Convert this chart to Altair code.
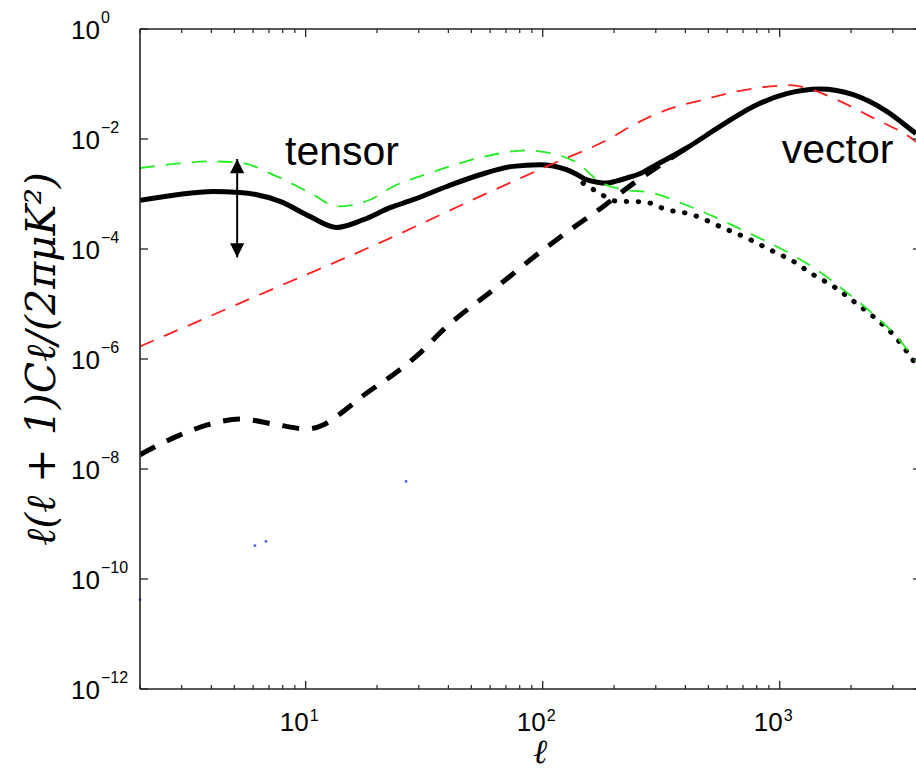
import altair as alt
import pandas as pd

# ---------------- data ----------------
solid_l = [2.0, 2.86, 4.06, 5.28, 7.79, 10.4, 13.5, 17.5, 22.7, 28.4, 39.4, 54.4, 75.0, 97.4,
           126, 140, 153, 170, 186, 204, 226, 257, 293, 405, 560, 774, 1070, 1479, 2044, 2828,
           3662, 3758]
solid_v = [7.65e-4, 9.7e-4, 1.11e-3, 1.07e-3, 7.33e-4, 3.92e-4, 2.47e-4, 3.41e-4, 5.64e-4, 7.87e-4,
           1.37e-3, 2.24e-3, 3.18e-3, 3.41e-3, 2.77e-3, 2.24e-3, 1.82e-3, 1.64e-3, 1.58e-3, 1.71e-3,
           1.95e-3, 2.34e-3, 3.18e-3, 6.86e-3, 1.69e-2, 3.91e-2, 6.67e-2, 8.11e-2, 6.39e-2, 3.18e-2,
           1.37e-2, 1.26e-2]

green_l = [2.0, 2.86, 3.95, 5.28, 7.55, 10.4, 13.7, 18.7, 23.4, 33.5, 54.4, 85.6, 114.6, 143.7,
           169, 212, 293, 392, 525, 702, 971, 1432, 1855, 2404, 3014, 3758]
green_v = [2.97e-3, 3.56e-3, 3.91e-3, 3.71e-3, 2.09e-3, 1.06e-3, 5.95e-4, 7.87e-4, 1.37e-3, 2.41e-3,
           4.57e-3, 6.21e-3, 5.19e-3, 3.41e-3, 1.82e-3, 1.23e-3, 1.04e-3, 6.58e-4, 3.92e-4, 2.18e-4,
           1.11e-4, 4.2e-5, 1.82e-5, 7.33e-6, 2.97e-6, 9.3e-7]

red_l = [2.0, 6.63, 22.0, 54.4, 104, 198, 233.5, 344.5, 476, 658.5, 910, 1106, 1258, 1740, 2404, 3662, 3758]
red_v = [1.69e-6, 1.58e-5, 1.48e-4, 9.04e-4, 3.18e-3, 1.1e-2, 1.67e-2, 3.56e-2, 5.18e-2, 7.33e-2,
         9.04e-2, 9.5e-2, 8.75e-2, 5.18e-2, 2.58e-2, 9.7e-3, 8.9e-3]

bdash_l = [2.0, 2.86, 3.88, 5.28, 7.55, 10.1, 11.9, 13.5, 18.1, 23.4, 30.4, 38.1, 61.9, 100.6,
           136.9, 180.2, 237.5, 307.4, 405]
bdash_v = [1.82e-8, 3.92e-8, 6.39e-8, 8.11e-8, 6.39e-8, 5.34e-8, 6.39e-8, 9.04e-8, 2.41e-7, 5.19e-7,
           1.29e-6, 3.41e-6, 1.82e-5, 9.7e-5, 2.58e-4, 5.95e-4, 1.48e-3, 3.18e-3, 6.86e-3]

dot_l = [147.9, 169, 208.4, 265.8, 333.6, 418, 578, 725.8, 910, 1141, 1386, 1712, 2078, 2524,
         3014, 3435, 3758]
dot_v = [1.58e-3, 1.11e-3, 7.33e-4, 7.24e-4, 5.19e-4, 4.33e-4, 2.41e-4, 1.58e-4, 9.7e-5, 5.95e-5,
         3.41e-5, 2.0e-5, 1.07e-5, 5.56e-6, 2.77e-6, 1.37e-6, 7.87e-7]

blue_l = [2.0, 6.11, 6.8, 26.5]
blue_v = [4.2e-11, 4.03e-10, 4.83e-10, 5.95e-9]

arrow_l = [5.14]
arrow_top = [4.33e-3]
arrow_bottom = [7.04e-5]

label_text = ["tensor", "vector"]
label_l = [8.18, 1020]
label_v = [3.41e-3, 3.66e-3]

y_ticks = [1, 1e-2, 1e-4, 1e-6, 1e-8, 1e-10, 1e-12]
y_exps = ["0", "\u22122", "\u22124", "\u22126", "\u22128", "\u221210", "\u221212"]
x_major = [10, 100, 1000]
x_exps = ["1", "2", "3"]
x_minor = [2, 3, 4, 5, 6, 7, 8, 9, 20, 30, 40, 50, 60, 70, 80, 90,
           200, 300, 400, 500, 600, 700, 800, 900, 2000, 3000]

# ---------------- chart ----------------
W, H = 776, 660
xs = alt.Scale(type="log", domain=[2, 3758], nice=False)
ys = alt.Scale(type="log", domain=[1e-12, 1], nice=False)
AX = "#222222"


def X(f="l"):
    return alt.X(f"{f}:Q", scale=xs, axis=None)


def Y(f="v"):
    return alt.Y(f"{f}:Q", scale=ys, axis=None)


def line(l, v, **mk):
    df = pd.DataFrame({"l": l, "v": v})
    return alt.Chart(df).mark_line(clip=True, interpolate="monotone", **mk).encode(x=X(), y=Y())


bdash = line(bdash_l, bdash_v, color="black", strokeWidth=5, strokeDash=[17, 13])
solid = line(solid_l, solid_v, color="black", strokeWidth=5)
dotted = line(dot_l, dot_v, color="black", strokeWidth=5, strokeDash=[0.5, 11.5], strokeCap="round")
green = line(green_l, green_v, color="#22ee22", strokeWidth=1.8, strokeDash=[15, 11])
red = line(red_l, red_v, color="#ff2020", strokeWidth=1.8, strokeDash=[15, 11])

blue = alt.Chart(pd.DataFrame({"l": blue_l, "v": blue_v})).mark_point(
    filled=True, color="#2233ff", size=8, opacity=0.8).encode(x=X(), y=Y())

adf = pd.DataFrame({"l": arrow_l, "top": arrow_top, "bot": arrow_bottom})
shaft = alt.Chart(adf).mark_rule(color="black", strokeWidth=2).encode(
    x=X(), y=alt.Y("top:Q", scale=ys, axis=None), y2="bot:Q")
head_up = alt.Chart(adf).mark_point(
    shape="M0,0L-1,2L1,2Z", filled=True, color="black", size=200, opacity=1).encode(
    x=X(), y=alt.Y("top:Q", scale=ys, axis=None))
head_dn = alt.Chart(adf).mark_point(
    shape="M0,0L-1,-2L1,-2Z", filled=True, color="black", size=200, opacity=1).encode(
    x=X(), y=alt.Y("bot:Q", scale=ys, axis=None))

labels = alt.Chart(pd.DataFrame({"l": label_l, "v": label_v, "t": label_text})).mark_text(
    align="left", baseline="alphabetic", font="Liberation Sans", fontSize=41, color="black").encode(
    x=X(), y=Y(), text="t:N")

one = pd.DataFrame({"a": [0]})
border = alt.layer(
    alt.Chart(one).mark_rule(color=AX, strokeWidth=1.6).encode(x=alt.value(0), x2=alt.value(W), y=alt.value(0)),
    alt.Chart(one).mark_rule(color=AX, strokeWidth=1.6).encode(x=alt.value(0), x2=alt.value(W), y=alt.value(H)),
    alt.Chart(one).mark_rule(color=AX, strokeWidth=1.6).encode(x=alt.value(0), y=alt.value(0), y2=alt.value(H)),
)

xmaj = pd.DataFrame({"l": x_major, "e": x_exps})
xmin = pd.DataFrame({"l": x_minor})
ytk = pd.DataFrame({"v": y_ticks, "e": y_exps})

ticks = alt.layer(
    alt.Chart(xmaj).mark_rule(color=AX, strokeWidth=1.3).encode(x=X(), y=alt.value(H), y2=alt.value(H - 8)),
    alt.Chart(xmaj).mark_rule(color=AX, strokeWidth=1.3).encode(x=X(), y=alt.value(0), y2=alt.value(8)),
    alt.Chart(xmin).mark_rule(color=AX, strokeWidth=1.2).encode(x=X(), y=alt.value(H), y2=alt.value(H - 4)),
    alt.Chart(xmin).mark_rule(color=AX, strokeWidth=1.2).encode(x=X(), y=alt.value(0), y2=alt.value(4)),
    alt.Chart(ytk).mark_rule(color=AX, strokeWidth=1.3).encode(y=Y(), x=alt.value(0), x2=alt.value(8)),
    alt.Chart(ytk).mark_rule(color=AX, strokeWidth=1.3).encode(y=Y(), x=alt.value(W - 3), x2=alt.value(W)),
)

FONT = "Liberation Sans"
tick_labels = alt.layer(
    alt.Chart(ytk).mark_text(text="10", align="right", baseline="alphabetic", font=FONT,
                             fontSize=26, dy=10, color="black").encode(x=alt.value(-40), y=Y()),
    alt.Chart(ytk).mark_text(align="left", baseline="alphabetic", font=FONT, fontSize=16,
                             dy=-6, color="black").encode(x=alt.value(-39), y=Y(), text="e:N"),
    alt.Chart(xmaj).mark_text(text="10", align="right", baseline="alphabetic", font=FONT,
                              fontSize=26, dx=3, color="black").encode(x=X(), y=alt.value(H + 42)),
    alt.Chart(xmaj).mark_text(align="left", baseline="alphabetic", font=FONT, fontSize=16,
                              dx=4, color="black").encode(x=X(), y=alt.value(H + 32), text="e:N"),
)

titles = alt.layer(
    alt.Chart(one).mark_text(text="\u2113", align="center", baseline="bottom", font="DejaVu Serif",
                             fontSize=34, fontStyle="italic", color="black").encode(
        x=alt.value(400), y=alt.value(H + 81)),
    alt.Chart(one).mark_text(text="\u2113(\u2113 + 1)C\u2113/(2\u03c0\u03bcK\u00b2)", align="center",
                             baseline="middle", angle=270, font="DejaVu Serif", fontSize=41,
                             fontStyle="italic", color="black").encode(x=alt.value(-97), y=alt.value(H / 2)),
)

chart = alt.layer(
    bdash, solid, dotted, green, red, blue, shaft, head_up, head_dn, labels,
    border, ticks, tick_labels, titles,
).properties(
    width=W, height=H,
    padding={"left": 140, "top": 29, "right": 0, "bottom": 81},
    autosize="none",
    background="white",
).configure_view(stroke=None)

chart.save("out.html", embed_options={"renderer": "svg", "actions": False})
